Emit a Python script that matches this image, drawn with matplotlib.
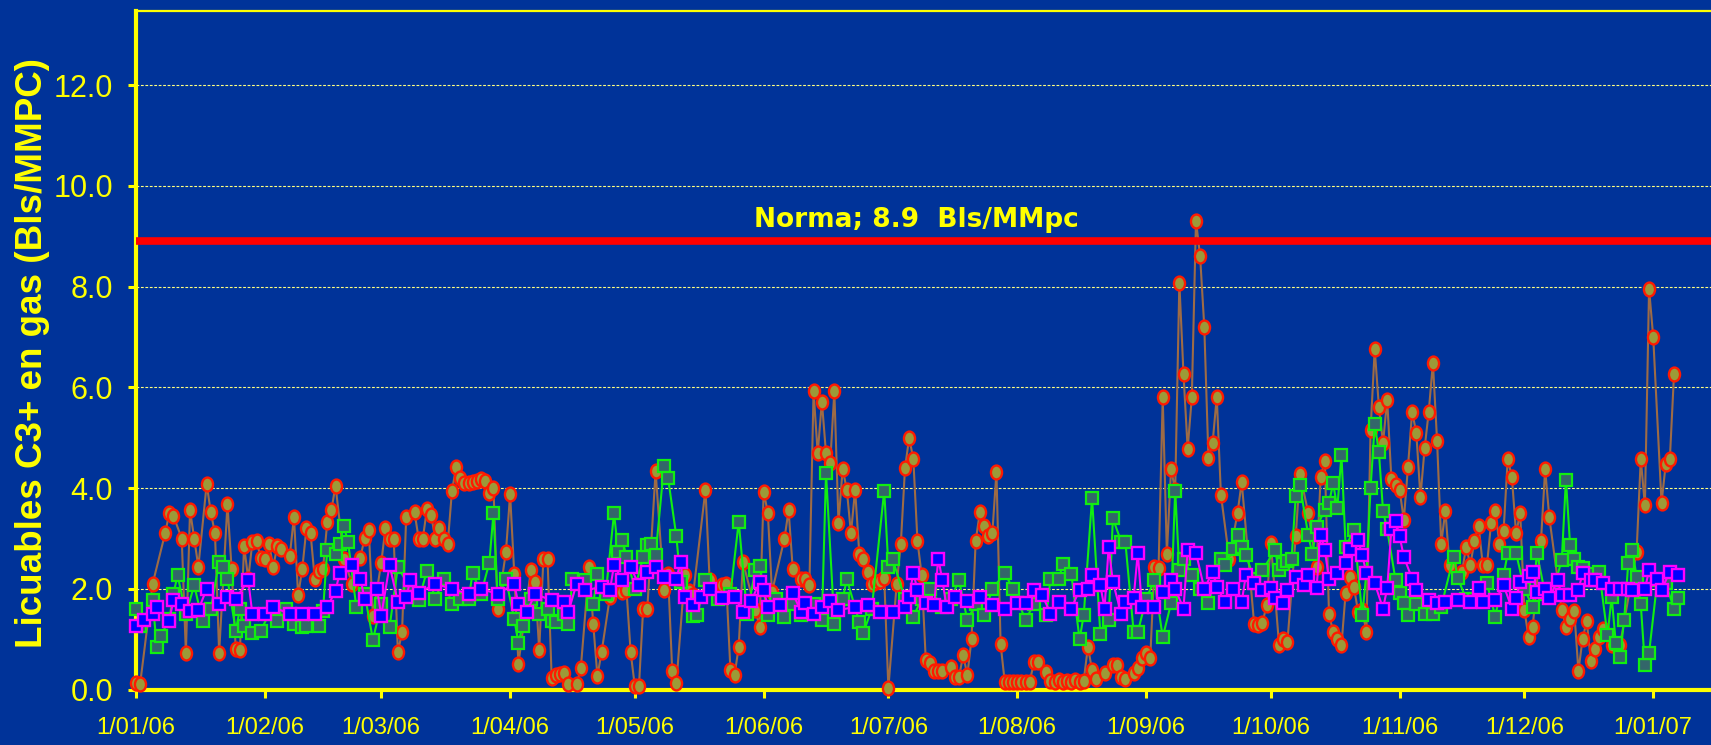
import matplotlib
matplotlib.use("Agg")
import matplotlib.pyplot as plt
import numpy as np
import pandas as pd
from matplotlib import font_manager
from matplotlib.path import Path
from matplotlib.transforms import Affine2D

# ---------------- data ----------------
start_date = "2006-01-01"

# orange series (circles) : day offset from 1/01/06 and value
o_day = [0, 1, 4, 7, 8, 9, 11, 12, 13, 14,
         15, 17, 18, 19, 20, 22, 23, 24, 25, 26,
         27, 28, 29, 30, 31, 32, 33, 34, 35, 37,
         38, 39, 40, 41, 42, 43, 44, 45, 46, 47,
         48, 50, 52, 54, 55, 56, 57, 59, 60, 61,
         62, 63, 64, 65, 67, 68, 69, 70, 71, 72,
         73, 74, 75, 76, 77, 78, 79, 80, 81, 82,
         83, 84, 85, 86, 87, 89, 90, 91, 92, 95,
         96, 97, 98, 99, 100, 101, 102, 103, 104, 106,
         107, 109, 110, 111, 112, 114, 117, 118, 119, 120,
         121, 122, 123, 125, 127, 128, 129, 130, 132, 133,
         134, 137, 138, 141, 142, 143, 144, 145, 146, 149,
         150, 151, 152, 153, 156, 157, 158, 160, 161, 162,
         163, 164, 165, 166, 167, 168, 169, 170, 171, 172,
         173, 174, 175, 176, 177, 178, 179, 180, 181, 183,
         184, 185, 186, 187, 188, 189, 190, 191, 192, 193,
         194, 196, 197, 198, 199, 200, 201, 202, 203, 204,
         205, 206, 207, 208, 209, 210, 211, 212, 213, 214,
         215, 216, 217, 219, 220, 221, 222, 223, 224, 225,
         226, 227, 228, 229, 230, 231, 233, 235, 236, 237,
         238, 240, 241, 242, 243, 244, 245, 246, 247, 248,
         249, 250, 251, 252, 253, 254, 255, 256, 257, 258,
         259, 260, 261, 263, 265, 266, 269, 270, 271, 272,
         273, 275, 276, 277, 279, 280, 282, 284, 285, 286,
         287, 288, 289, 290, 291, 292, 293, 294, 295, 296,
         297, 298, 299, 300, 301, 302, 303, 304, 305, 306,
         307, 308, 309, 310, 311, 312, 313, 314, 315, 316,
         319, 320, 321, 322, 323, 324, 325, 326, 327, 328,
         329, 330, 331, 332, 333, 334, 335, 336, 338, 339,
         340, 343, 344, 345, 346, 347, 348, 349, 350, 351,
         352, 353, 355, 357, 361, 362, 363, 364, 365, 367,
         368, 369, 370]
o_val = [0.13, 0.12, 2.1, 3.1, 3.5, 3.45, 3.0, 0.73, 3.56, 3.0,
         2.44, 4.08, 3.52, 3.1, 0.73, 3.68, 2.4, 0.8, 0.78, 2.85,
         2.2, 2.93, 2.95, 2.62, 2.6, 2.9, 2.44, 2.85, 2.8, 2.66,
         3.43, 1.87, 2.4, 3.2, 3.1, 2.2, 2.35, 2.4, 3.32, 3.56,
         4.05, 2.6, 2.1, 2.62, 3.02, 3.16, 1.46, 2.52, 3.2, 3.0,
         3.0, 0.74, 1.14, 3.43, 3.52, 3.0, 3.0, 3.59, 3.46, 3.0,
         3.2, 3.0, 2.9, 3.94, 4.41, 4.2, 4.1, 4.1, 4.12, 4.15,
         4.18, 4.15, 3.9, 4.0, 1.6, 2.74, 3.88, 2.3, 0.51, 2.37,
         2.14, 0.78, 2.59, 2.6, 0.23, 0.28, 0.3, 0.32, 0.11, 0.11,
         0.42, 2.44, 1.3, 0.27, 0.74, 1.84, 1.93, 1.97, 0.74, 0.07,
         0.07, 1.6, 1.6, 4.34, 1.97, 2.29, 0.37, 0.13, 2.28, 1.95,
         1.87, 3.97, 2.17, 2.07, 2.1, 0.39, 0.29, 0.85, 2.54, 1.58,
         1.25, 3.93, 3.51, 1.94, 3.0, 3.56, 2.39, 2.2, 2.2, 2.07,
         5.92, 4.69, 5.72, 4.69, 4.49, 5.92, 3.31, 4.38, 3.97, 3.1,
         3.97, 2.7, 2.59, 2.34, 2.1, 2.13, 2.15, 2.22, 0.03, 2.1,
         2.9, 4.4, 5.0, 4.58, 2.95, 2.28, 0.59, 0.53, 0.37, 0.37,
         0.36, 0.44, 0.25, 0.26, 0.68, 0.29, 1.0, 2.95, 3.52, 3.25,
         3.05, 3.1, 4.32, 0.9, 0.15, 0.15, 0.15, 0.15, 0.15, 0.15,
         0.15, 0.54, 0.54, 0.35, 0.18, 0.15, 0.2, 0.15, 0.18, 0.15,
         0.2, 0.15, 0.18, 0.85, 0.39, 0.22, 0.33, 0.49, 0.49, 0.25,
         0.22, 0.33, 0.42, 0.63, 0.72, 0.63, 2.44, 2.42, 5.8, 2.7,
         4.38, 3.96, 8.08, 6.26, 4.78, 5.81, 9.31, 8.6, 7.2, 4.59,
         4.9, 5.81, 3.87, 2.6, 3.51, 4.12, 1.3, 1.28, 1.33, 1.68,
         2.92, 0.88, 1.0, 0.95, 3.04, 4.29, 3.51, 2.44, 4.23, 4.54,
         1.5, 1.15, 1.0, 0.88, 1.92, 2.24, 2.03, 1.55, 1.58, 1.15,
         5.15, 6.76, 5.62, 4.9, 5.76, 4.19, 4.06, 3.96, 3.37, 4.42,
         5.52, 5.1, 3.82, 4.79, 5.52, 6.49, 4.94, 2.9, 3.55, 2.47,
         2.34, 2.84, 2.47, 2.96, 3.25, 2.47, 2.47, 3.31, 3.55, 2.9,
         3.15, 4.58, 4.22, 3.1, 3.51, 1.58, 1.05, 1.25, 2.95, 4.38,
         3.42, 1.58, 1.25, 1.41, 1.57, 0.37, 1.0, 1.37, 0.57, 0.8,
         1.04, 1.21, 0.88, 0.88, 2.74, 4.58, 3.66, 7.96, 7.0, 3.71,
         4.47, 4.58, 6.26]

# green series (squares)
g_day = [0, 1, 4, 5, 6, 8, 9, 10, 12, 14,
         16, 18, 20, 21, 22, 24, 25, 26, 28, 30,
         32, 34, 36, 38, 40, 41, 44, 45, 46, 48,
         49, 50, 51, 53, 55, 57, 59, 61, 63, 66,
         68, 70, 72, 74, 76, 78, 80, 81, 83, 85,
         86, 87, 89, 91, 92, 93, 95, 97, 99, 100,
         101, 103, 104, 105, 108, 110, 111, 113, 115, 116,
         117, 118, 120, 122, 123, 124, 125, 127, 128, 130,
         131, 134, 135, 137, 140, 143, 145, 147, 149, 150,
         152, 154, 156, 158, 160, 163, 165, 166, 168, 170,
         171, 174, 175, 177, 180, 181, 182, 185, 187, 189,
         191, 194, 196, 198, 200, 202, 204, 206, 209, 211,
         214, 216, 219, 220, 222, 223, 225, 227, 228, 230,
         232, 234, 235, 237, 238, 240, 241, 243, 245, 247,
         249, 250, 251, 252, 254, 256, 258, 261, 262, 264,
         265, 266, 267, 269, 271, 274, 275, 276, 277, 278,
         279, 280, 282, 283, 284, 286, 287, 288, 289, 290,
         291, 293, 295, 296, 297, 298, 299, 300, 301, 303,
         304, 305, 306, 308, 310, 312, 314, 317, 318, 320,
         322, 325, 327, 329, 330, 332, 334, 336, 337, 339,
         341, 343, 344, 345, 346, 347, 348, 350, 352, 354,
         355, 356, 357, 358, 359, 360, 361, 362, 363, 364,
         366, 368, 370, 371]
g_val = [1.6, 1.27, 1.77, 0.84, 1.07, 1.4, 1.9, 2.27, 1.5, 2.07,
         1.37, 1.6, 2.54, 2.44, 2.2, 1.17, 1.6, 1.27, 1.12, 1.17,
         1.5, 1.37, 1.6, 1.3, 1.25, 1.27, 1.27, 1.57, 2.77, 2.7,
         2.9, 3.24, 2.94, 1.64, 1.9, 0.99, 1.7, 1.24, 2.44, 2.0,
         1.77, 2.36, 1.8, 2.2, 1.7, 1.8, 1.8, 2.32, 1.9, 2.52,
         3.5, 1.8, 2.2, 1.4, 0.92, 1.27, 1.8, 1.5, 1.6, 1.36,
         1.34, 1.5, 1.3, 2.2, 2.17, 1.7, 2.3, 1.9, 3.5, 2.74,
         2.97, 2.64, 2.0, 2.63, 2.87, 2.9, 2.67, 4.43, 4.2, 3.04,
         2.14, 1.47, 1.48, 2.17, 1.8, 1.9, 3.33, 1.51, 2.37, 2.45,
         1.48, 1.8, 1.45, 1.7, 1.48, 1.7, 1.38, 4.3, 1.31, 1.8,
         2.19, 1.35, 1.13, 1.6, 3.95, 2.44, 2.6, 1.8, 1.45, 1.8,
         2.0, 1.64, 1.8, 2.17, 1.38, 1.7, 1.48, 2.0, 2.31, 2.0,
         1.38, 1.7, 1.48, 2.2, 2.2, 2.5, 2.3, 1.0, 1.48, 3.8,
         1.1, 1.38, 3.4, 2.94, 2.94, 1.15, 1.14, 1.8, 2.17, 1.04,
         1.71, 3.95, 2.37, 2.6, 2.27, 2.0, 1.71, 2.6, 2.47, 2.8,
         3.07, 2.84, 2.67, 2.2, 2.37, 2.77, 2.37, 2.5, 2.55, 2.6,
         3.84, 4.06, 3.07, 2.7, 3.23, 3.56, 3.7, 4.1, 3.6, 4.66,
         2.84, 3.17, 1.48, 2.31, 4.0, 5.27, 4.72, 3.55, 3.18, 2.18,
         1.91, 1.71, 1.48, 1.7, 1.5, 1.5, 1.65, 2.64, 2.21, 1.8,
         1.8, 2.11, 1.45, 2.27, 2.71, 2.71, 2.0, 1.64, 2.72, 1.9,
         2.0, 2.57, 4.17, 2.87, 2.6, 2.44, 2.41, 2.3, 2.34, 1.08,
         1.84, 0.92, 0.65, 1.38, 2.52, 2.77, 2.24, 1.7, 0.49, 0.73,
         2.17, 2.11, 1.61, 1.81]

# magenta series (squares)
m_day = [0, 2, 4, 5, 8, 9, 11, 13, 15, 17,
         20, 22, 24, 27, 28, 31, 33, 37, 40, 43,
         46, 48, 49, 52, 54, 55, 58, 59, 61, 63,
         65, 66, 68, 72, 76, 80, 83, 87, 91, 92,
         94, 96, 100, 103, 104, 106, 108, 112, 114, 115,
         117, 119, 121, 123, 125, 127, 130, 131, 132, 134,
         136, 138, 141, 144, 146, 148, 150, 151, 152, 155,
         158, 160, 161, 163, 165, 167, 169, 173, 176, 179,
         182, 185, 186, 187, 188, 190, 192, 193, 194, 195,
         197, 200, 203, 206, 209, 212, 214, 216, 218, 220,
         222, 225, 227, 229, 230, 232, 233, 234, 235, 237,
         238, 240, 241, 242, 245, 247, 249, 250, 252, 253,
         255, 257, 259, 260, 262, 264, 266, 267, 269, 271,
         273, 274, 276, 277, 279, 281, 282, 284, 285, 286,
         287, 289, 291, 292, 294, 295, 296, 298, 300, 301,
         302, 303, 304, 305, 307, 308, 311, 313, 315, 318,
         321, 323, 324, 327, 329, 331, 332, 333, 335, 336,
         337, 339, 340, 342, 343, 345, 347, 348, 350, 351,
         353, 355, 357, 359, 360, 363, 364, 366, 367, 369,
         371]
m_val = [1.27, 1.38, 1.5, 1.64, 1.37, 1.77, 1.7, 1.57, 1.58, 2.0,
         1.7, 1.84, 1.8, 2.17, 1.5, 1.5, 1.64, 1.5, 1.5, 1.5,
         1.64, 1.96, 2.32, 2.47, 2.19, 1.8, 1.99, 1.47, 2.47, 1.74,
         1.84, 2.17, 1.92, 2.1, 2.0, 1.9, 2.0, 1.9, 2.1, 1.7,
         1.54, 1.9, 1.77, 1.74, 1.54, 2.1, 1.97, 2.04, 1.97, 2.47,
         2.17, 2.44, 2.07, 2.34, 2.44, 2.24, 2.2, 2.54, 1.84, 1.68,
         1.84, 2.0, 1.81, 1.84, 1.55, 1.75, 2.14, 1.98, 1.65, 1.68,
         1.91, 1.55, 1.71, 1.51, 1.64, 1.75, 1.58, 1.64, 1.68, 1.55,
         1.55, 1.64, 1.84, 2.32, 1.98, 1.71, 1.68, 2.6, 2.17, 1.64,
         1.84, 1.75, 1.84, 1.68, 1.61, 1.71, 1.71, 1.98, 1.88, 1.51,
         1.74, 1.61, 1.98, 2.0, 2.27, 2.07, 1.61, 2.84, 2.14, 1.51,
         1.74, 1.81, 2.72, 1.64, 1.64, 1.94, 2.17, 2.0, 1.61, 2.77,
         2.72, 2.0, 2.34, 2.04, 1.74, 2.0, 1.74, 2.27, 2.11, 1.98,
         2.01, 1.81, 1.71, 1.98, 2.24, 2.07, 2.27, 2.01, 3.07, 2.77,
         2.2, 2.31, 2.51, 2.8, 2.97, 2.67, 2.31, 2.11, 1.61, 2.01,
         3.18, 3.35, 3.04, 2.64, 2.2, 1.98, 1.78, 1.71, 1.74, 1.78,
         1.74, 2.01, 1.74, 1.78, 2.07, 1.61, 1.81, 2.14, 2.25, 2.34,
         1.94, 2.0, 1.81, 2.17, 1.88, 1.88, 1.98, 2.31, 2.17, 2.17,
         2.11, 2.0, 2.0, 2.0, 1.98, 2.0, 2.37, 2.2, 1.98, 2.34,
         2.27]

norm_value = 8.9
norm_label = "Norma; 8.9  Bls/MMpc"
y_label = "Licuables C3+ en gas (Bls/MMPC)"
y_ticks = [0, 2, 4, 6, 8, 10, 12]
y_tick_labels = ["0.0", "2.0", "4.0", "6.0", "8.0", "10.0", "12.0"]
x_tick_dates = ["2006-01-01", "2006-02-01", "2006-03-01", "2006-04-01",
                "2006-05-01", "2006-06-01", "2006-07-01", "2006-08-01",
                "2006-09-01", "2006-10-01", "2006-11-01", "2006-12-01",
                "2007-01-01"]
x_tick_labels = ["1/01/06", "1/02/06", "1/03/06", "1/04/06", "1/05/06",
                 "1/06/06", "1/07/06", "1/08/06", "1/09/06", "1/10/06",
                 "1/11/06", "1/12/06", "1/01/07"]

# ---------------- styling ----------------
BG = "#003399"
YEL = "#FFFF00"
names = {f.name for f in font_manager.fontManager.ttflist}
has_narrow = "Liberation Sans Narrow" in names
tick_family = ["Liberation Sans Narrow", "Liberation Sans"] if has_narrow else ["Liberation Sans"]
ytick_size = 25.5 if has_narrow else 22
xtick_size = 20.5 if has_narrow else 17

start = pd.Timestamp(start_date)


def to_dates(days):
    return start + pd.to_timedelta(np.asarray(days, dtype=float), unit="D")


ellipse = Path.unit_circle().transformed(Affine2D().scale(0.8, 1.0))

fig = plt.figure(figsize=(17.11, 7.45), dpi=100, facecolor=BG)
ax = fig.add_axes([136 / 1711, 55.4 / 745, 1575 / 1711, 678.9 / 745])
ax.set_facecolor(BG)

ax.plot(to_dates(o_day), o_val, color="#9E6B45", lw=1.5, marker=ellipse,
        ms=10, mfc="#9C9A38", mec="#FF1A00", mew=1.7, zorder=3, clip_on=False)
ax.axhline(norm_value, color="#FF0000", lw=5.5, zorder=3.5)
ax.plot(to_dates(g_day), g_val, color="#11EE11", lw=1.5, marker="s",
        ms=8.6, mfc="#33666A", mec="#11EE11", mew=1.6, zorder=4, clip_on=False)
ax.plot(to_dates(m_day), m_val, color="#FF00FF", lw=1.5, marker="s",
        ms=9.2, mfc="#0000FF", mec="#FF00FF", mew=1.7, zorder=5, clip_on=False)

ax.text(start + pd.Timedelta(days=187.8), 9.18, norm_label, ha="center",
        va="baseline", color=YEL, fontsize=19, fontweight="bold",
        family="DejaVu Sans", zorder=6)

ax.set_ylim(0, 13.48)
ax.set_xlim(start, start + pd.Timedelta(days=378.9))

ax.set_yticks(y_ticks)
ax.set_yticklabels(y_tick_labels, fontsize=ytick_size, family=tick_family, color=YEL)
ax.set_xticks(pd.to_datetime(x_tick_dates))
ax.set_xticklabels(x_tick_labels, fontsize=xtick_size, family=tick_family, color=YEL)
ax.tick_params(axis="both", colors=YEL, direction="out", length=5.5, width=2.2)
ax.tick_params(axis="y", pad=11)
ax.tick_params(axis="x", pad=14)

ax.yaxis.grid(True, color="#FFFF80", lw=0.8, ls=(0, (2.5, 1.5)))
ax.set_axisbelow(True)

for side in ["left", "bottom"]:
    ax.spines[side].set_color(YEL)
    ax.spines[side].set_linewidth(3)
ax.spines["top"].set_color(YEL)
ax.spines["top"].set_linewidth(1.6)
ax.spines["right"].set_visible(False)

fig.text(33 / 1711, 1 - 353 / 745, y_label, rotation=90, ha="center", va="center",
         fontsize=26.5, fontweight="bold", color=YEL, family="Liberation Sans")

fig.savefig("out.png", dpi=100, facecolor=BG)
